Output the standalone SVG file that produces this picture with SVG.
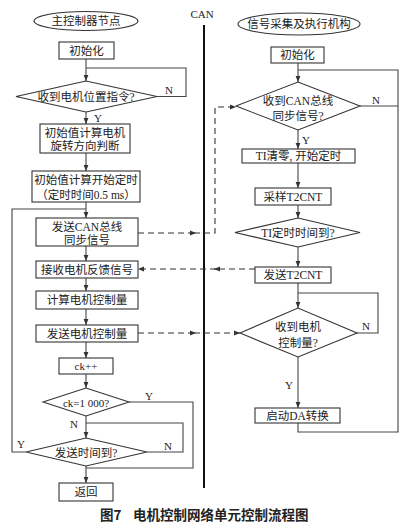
<svg xmlns="http://www.w3.org/2000/svg" width="406" height="529" viewBox="0 0 406 529">
<defs>
<marker id="ar" viewBox="0 0 8 8" refX="8" refY="4" markerWidth="6" markerHeight="6" orient="auto" markerUnits="userSpaceOnUse">
<path d="M0,0.8 L8,4 L0,7.2 Z" fill="#333"/>
</marker>
<style>
.b{fill:#fff;stroke:#333;stroke-width:1.1}
.l{fill:none;stroke:#444;stroke-width:1.1}
.d{fill:none;stroke:#333;stroke-width:1.1;stroke-dasharray:6 4}
.t{font-family:"Liberation Serif","Noto Sans CJK SC",serif;font-size:11.5px;fill:#222;text-anchor:middle;dominant-baseline:central}
.s{font-family:"Liberation Serif","Noto Sans CJK SC",serif;font-size:11px;fill:#222;text-anchor:middle;dominant-baseline:central}
.c{font-family:"Noto Sans CJK SC",sans-serif;font-size:13.5px;font-weight:bold;fill:#222;dominant-baseline:central}
</style>
</defs>
<rect width="406" height="529" fill="#fff"/>

<g id="connectors">
<!-- CAN bus -->
<line x1="204" y1="25" x2="204" y2="488" stroke="#111" stroke-width="2"/>
<!-- left column -->
<line class="l" x1="86" y1="59" x2="86" y2="81" marker-end="url(#ar)"/>
<polyline class="l" points="157,96.5 186,96.5 186,68 86,68"/>
<line class="l" x1="86" y1="112" x2="86" y2="124" marker-end="url(#ar)"/>
<line class="l" x1="86" y1="153" x2="86" y2="171" marker-end="url(#ar)"/>
<line class="l" x1="86" y1="202" x2="86" y2="218" marker-end="url(#ar)"/>
<polyline class="l" points="26,452 12,452 12,209 86,209"/>
<line class="l" x1="86" y1="246" x2="86" y2="261" marker-end="url(#ar)"/>
<line class="l" x1="86" y1="278" x2="86" y2="291" marker-end="url(#ar)"/>
<line class="l" x1="86" y1="309" x2="86" y2="325" marker-end="url(#ar)"/>
<line class="l" x1="86" y1="342" x2="86" y2="358" marker-end="url(#ar)"/>
<line class="l" x1="86" y1="374" x2="86" y2="388" marker-end="url(#ar)"/>
<polyline class="l" points="129,402 193,402 193,468 86,468"/>
<line class="l" x1="86" y1="416" x2="86" y2="438" marker-end="url(#ar)"/>
<polyline class="l" points="147,452 183,452 183,423 86,423"/>
<line class="l" x1="86" y1="466" x2="86" y2="483" marker-end="url(#ar)"/>
<!-- right column -->
<line class="l" x1="298" y1="63" x2="298" y2="82" marker-end="url(#ar)"/>
<polyline class="l" points="298,423 298,432 398,432 398,70 298,70"/>
<line class="l" x1="360" y1="106" x2="398" y2="106"/>
<line class="l" x1="298" y1="130" x2="298" y2="149" marker-end="url(#ar)"/>
<line class="l" x1="298" y1="163" x2="298" y2="188" marker-end="url(#ar)"/>
<line class="l" x1="298" y1="205" x2="298" y2="218" marker-end="url(#ar)"/>
<line class="l" x1="298" y1="247" x2="298" y2="267" marker-end="url(#ar)"/>
<line class="l" x1="298" y1="283" x2="298" y2="308" marker-end="url(#ar)"/>
<polyline class="l" points="357,333 378,333 378,293 298,293"/>
<line class="l" x1="298" y1="357" x2="298" y2="408" marker-end="url(#ar)"/>
<!-- dashed signals -->
<line class="d" x1="138" y1="233" x2="196" y2="233" marker-end="url(#ar)"/>
<polyline class="d" points="194,233 215,233 215,107 236,107" marker-end="url(#ar)"/>
<line class="d" x1="255" y1="269" x2="214" y2="269" marker-end="url(#ar)"/>
<line class="d" x1="216" y1="269" x2="138" y2="269" marker-end="url(#ar)"/>
<line class="d" x1="138" y1="333" x2="196" y2="333" marker-end="url(#ar)"/>
<line class="d" x1="194" y1="333" x2="240" y2="333" marker-end="url(#ar)"/>
</g>

<g id="can-label"><text class="s" x="202" y="14">CAN</text></g>

<g id="L0"><ellipse class="b" cx="86" cy="21" rx="52" ry="9.5"/><text class="t" x="86" y="21">主控制器节点</text></g>
<g id="L1"><rect class="b" x="59" y="42" width="55" height="17"/><text class="t" x="86.5" y="50.5">初始化</text></g>
<g id="L2"><polygon class="b" points="16,96.5 86,81 157,96.5 86,112"/><text class="t" x="86" y="97">收到电机位置指令?</text>
<text class="s" x="169" y="90">N</text><text class="s" x="98" y="118">Y</text></g>
<g id="L3"><rect class="b" x="40" y="124" width="90" height="29"/><text class="t" x="85" y="132.5">初始值计算电机</text><text class="t" x="85" y="146">旋转方向判断</text></g>
<g id="L4"><rect class="b" x="32" y="171" width="108" height="31"/><text class="t" x="86" y="180">初始值计算开始定时</text><text class="t" x="86" y="194.5">（定时时间0.5 ms）</text></g>
<g id="L5"><rect class="b" x="36" y="218" width="102" height="28"/><text class="t" x="87" y="226.5">发送CAN总线</text><text class="t" x="87" y="240">同步信号</text></g>
<g id="L6"><rect class="b" x="36" y="261" width="102" height="17"/><text class="t" x="87" y="269.5">接收电机反馈信号</text></g>
<g id="L7"><rect class="b" x="36" y="291" width="102" height="18"/><text class="t" x="87" y="300">计算电机控制量</text></g>
<g id="L8"><rect class="b" x="36" y="325" width="102" height="17"/><text class="t" x="87" y="333.5">发送电机控制量</text></g>
<g id="L9"><rect class="b" x="59" y="358" width="54" height="16"/><text class="s" x="86" y="366">ck++</text></g>
<g id="L10"><polygon class="b" points="43,402 86,388 129,402 86,416"/><text class="s" x="86" y="402.5">ck=1 000?</text>
<text class="s" x="149" y="396">Y</text><text class="s" x="74" y="424">N</text></g>
<g id="L11"><polygon class="b" points="26,452 86,438 147,452 86,466"/><text class="t" x="86" y="452.5">发送时间到?</text>
<text class="s" x="168" y="446">N</text><text class="s" x="21" y="444">Y</text></g>
<g id="L12"><rect class="b" x="59" y="483" width="54" height="18"/><text class="t" x="86" y="492">返回</text></g>

<g id="R0"><ellipse class="b" cx="299" cy="24" rx="61" ry="11"/><text class="t" x="299" y="24">信号采集及执行机构</text></g>
<g id="R1"><rect class="b" x="271" y="47" width="53" height="16"/><text class="t" x="297.5" y="55">初始化</text></g>
<g id="R2"><polygon class="b" points="236,106 298,82 360,106 298,130"/><text class="t" x="298" y="100.5">收到CAN总线</text><text class="t" x="298" y="116">同步信号?</text>
<text class="s" x="376" y="100">N</text><text class="s" x="306" y="140">Y</text></g>
<g id="R3"><rect class="b" x="242" y="149" width="113" height="14"/><text class="t" x="298.5" y="156">TI清零, 开始定时</text></g>
<g id="R4"><rect class="b" x="255" y="188" width="76" height="17"/><text class="t" x="293" y="196.5">采样T2CNT</text></g>
<g id="R5"><polygon class="b" points="235,232.5 298,218 360,232.5 298,247"/><text class="t" x="298" y="233">TI定时时间到?</text></g>
<g id="R6"><rect class="b" x="255" y="267" width="76" height="16"/><text class="t" x="293" y="275">发送T2CNT</text></g>
<g id="R7"><polygon class="b" points="240,333 298,308 357,333 298,357"/><text class="t" x="298" y="327">收到电机</text><text class="t" x="298" y="343">控制量?</text>
<text class="s" x="366" y="326">N</text><text class="s" x="289" y="385">Y</text></g>
<g id="R8"><rect class="b" x="255" y="408" width="85" height="15"/><text class="t" x="297.5" y="415.5">启动DA转换</text></g>

<g id="caption"><text class="c" x="100" y="514">图7</text><text class="c" x="133" y="514">电机控制网络单元控制流程图</text></g>
</svg>
